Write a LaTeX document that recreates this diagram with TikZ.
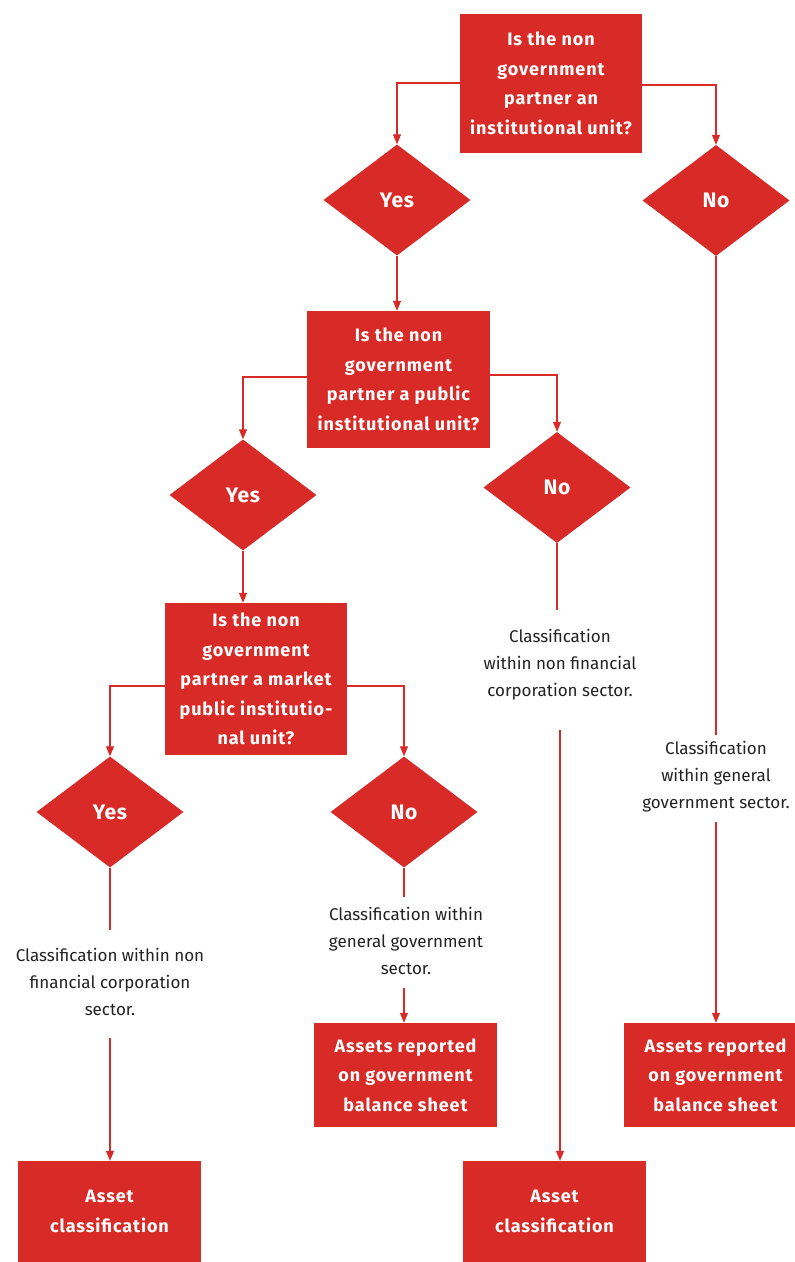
\documentclass[tikz,border=0pt]{standalone}
\usepackage{fontspec}
\setmainfont{Fira Sans}
\usetikzlibrary{shapes.geometric,arrows.meta}
\definecolor{cred}{HTML}{D82B27}
\definecolor{ctext}{HTML}{222222}
\begin{document}
\begin{tikzpicture}[x=1pt,y=-1pt,
  qbox/.style={fill=cred,draw=none,text=white,align=center,inner sep=0pt,
    font=\fontsize{18}{29.5}\selectfont\bfseries\addfontfeature{LetterSpace=5}},
  dia/.style={diamond,fill=cred,draw=none,text=white,inner sep=0pt,
    minimum width=147pt,minimum height=111pt,
    font=\fontsize{21}{22}\selectfont\bfseries\addfontfeature{LetterSpace=3}},
  lbl/.style={text=ctext,align=center,inner sep=0pt,
    font=\fontsize{17}{27}\selectfont},
  conn/.style={draw=cred,line width=1.1pt},
  arr/.style={conn,-{Triangle[length=10pt,width=8pt]}}]
\useasboundingbox (0,0) rectangle (795,1262);
\clip (0,0) rectangle (795,1262);
% boxes
\node[qbox,minimum width=182pt,minimum height=139pt] (q1) at (551,83.5)
  {Is the non\\government\\partner an\\institutional unit?};
\node[qbox,minimum width=183pt,minimum height=137pt] (q2) at (398.5,379.5)
  {Is the non\\government\\partner a public\\institutional unit?};
\node[qbox,minimum width=182pt,minimum height=152pt] (q3) at (256,679)
  {Is the non\\government\\partner a market\\public institutio-\\nal unit?};
% diamonds
\node[dia] (y1) at (397,200) {Yes};
\node[dia] (n1) at (716,200.5) {No};
\node[dia] (y2) at (243,495) {Yes};
\node[dia] (n2) at (557,487.5) {No};
\node[dia] (y3) at (110,812) {Yes};
\node[dia] (n3) at (404,812) {No};
% labels
\node[lbl] (tn2) at (560,665) {Classification\\within non financial\\corporation sector.};
\node[lbl] (tn1) at (716,777) {Classification\\within general\\government sector.};
\node[lbl] (ty3) at (110,982) {Classification within non\\financial corporation\\sector.};
\node[lbl] (tn3) at (406,941) {Classification within\\general government\\sector.};
% result boxes
\node[qbox,minimum width=183pt,minimum height=101pt] (a1) at (109.5,1211.5) {Asset\\classification};
\node[qbox,minimum width=183pt,minimum height=101pt] (a2) at (554.5,1211.5) {Asset\\classification};
\node[qbox,minimum width=183pt,minimum height=104pt] (b1) at (405.5,1075) {Assets reported\\on government\\balance sheet};
\node[qbox,minimum width=183pt,minimum height=104pt] (b2) at (715.5,1075) {Assets reported\\on government\\balance sheet};
% coordinates
\coordinate (c1) at (397,83);
\coordinate (c2) at (716,85);
\coordinate (c3) at (243,377);
\coordinate (c4) at (557,375);
\coordinate (c5) at (110,686);
\coordinate (c6) at (404,686);
\coordinate (e1) at (557,610);
\coordinate (s1) at (560,730);
\coordinate (e2) at (716,735);
\coordinate (s2) at (716,822);
\coordinate (e3) at (110,930);
\coordinate (s3) at (110,1038);
\coordinate (e4) at (404,897);
\coordinate (s4) at (404,988);
% connectors
\draw[arr] (q1.west |- c1) -- (c1) -- (y1.north);
\draw[arr] (q1.east |- c2) -- (c2) -- (n1.north);
\draw[arr] (y1.south) -- (q2.north -| y1.south);
\draw[arr] (q2.west |- c3) -- (c3) -- (y2.north);
\draw[arr] (q2.east |- c4) -- (c4) -- (n2.north);
\draw[arr] (y2.south) -- (q3.north -| y2.south);
\draw[arr] (q3.west |- c5) -- (c5) -- (y3.north);
\draw[arr] (q3.east |- c6) -- (c6) -- (n3.north);
\draw[conn] (n2.south) -- (e1);
\draw[arr] (s1) -- (a2.north -| s1);
\draw[conn] (n1.south) -- (e2);
\draw[arr] (s2) -- (b2.north -| s2);
\draw[conn] (y3.south) -- (e3);
\draw[arr] (s3) -- (a1.north -| s3);
\draw[conn] (n3.south) -- (e4);
\draw[arr] (s4) -- (b1.north -| s4);
\end{tikzpicture}
\end{document}
